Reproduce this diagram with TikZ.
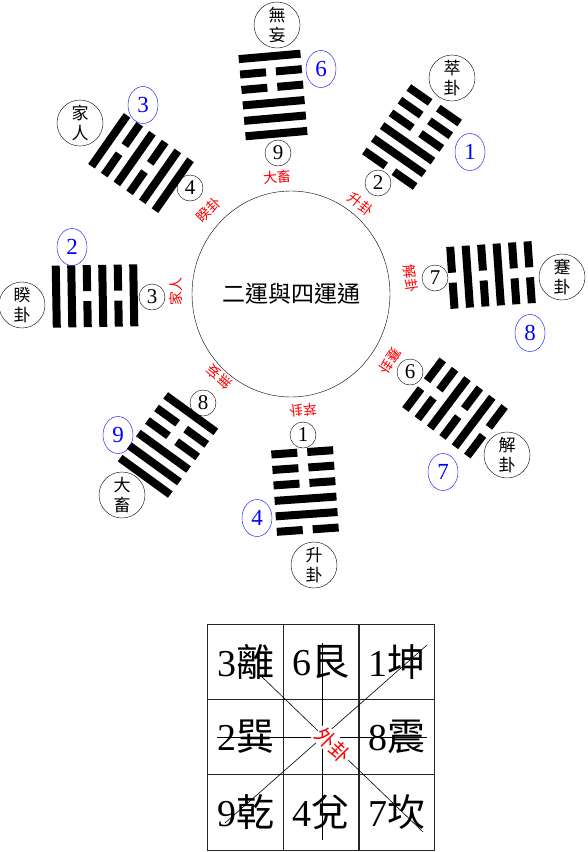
\documentclass[tikz,border=0pt]{standalone}
\usepackage{fontspec}
\setmainfont{Liberation Serif}
\newfontfamily\cjk{Noto Sans CJK TC}
\usetikzlibrary{shapes.geometric,calc}

\newcommand\gua[4]{% centre x, centre y, rotation, lines from outside in
  \begin{scope}[shift={(#1,#2)}, rotate=#3]
    \foreach \b [count=\k] in {#4} {
      \pgfmathsetmacro\yy{(\k-3.5)*15.5}
      \ifnum\b=1
        \draw[yao] (-31,\yy) -- (31,\yy);
      \else
        \draw[yao] (-31,\yy) -- (-5,\yy);
        \draw[yao] (5,\yy) -- (31,\yy);
      \fi
    }
  \end{scope}}

\begin{document}
\begin{tikzpicture}[
  x=1pt, y=-1pt,
  yao/.style={line width=8pt},
  ring/.style={draw, circle, minimum size=46pt, inner sep=0pt, align=center, font=\cjk\fontsize{17}{20}\selectfont},
  num/.style={draw, circle, minimum size=26pt, inner sep=0pt, font=\fontsize{21}{21}\selectfont},
  blu/.style={draw=blue, text=blue, ellipse, minimum width=30pt, minimum height=37pt, inner sep=0pt, font=\fontsize{23}{23}\selectfont},
  zong/.style={text=red, inner sep=0pt, font=\cjk\fontsize{14}{14}\selectfont},
  cell/.style={draw=black!85, line width=0.9pt, minimum size=75.7pt, inner sep=0pt, font=\fontsize{38}{38}\selectfont},
]
\useasboundingbox (0,0) rectangle (587,852);

\node[draw, ellipse, minimum width=198pt, minimum height=206pt, inner sep=0pt, font=\cjk\fontsize{23}{23}\selectfont] (yun) at (291,294) {二運與四運通};

\gua{273}{95}{5}{1,0,0,1,1,1}
\gua{412}{137}{-35}{0,0,0,1,1,0}
\gua{491}{275}{-86}{0,0,1,0,1,0}
\gua{455}{408}{-127}{0,1,0,1,0,0}
\gua{305}{491}{-176}{0,1,1,0,0,0}
\gua{168}{445}{144}{1,1,1,0,0,1}
\gua{95}{296}{91}{1,1,0,1,0,1}
\gua{141}{163}{55}{1,0,1,0,1,1}

\node[ring] (wuwang) at (277,25) {無\\妄};
\node[ring] (cui) at (452,78) {萃\\卦};
\node[ring] (jian) at (562,277) {蹇\\卦};
\node[ring] (xie) at (507,455) {解\\卦};
\node[ring] (sheng) at (314,565) {升\\卦};
\node[ring] (daxu) at (122,495) {大\\畜};
\node[ring] (kui) at (22,305) {睽\\卦};
\node[ring] (jiaren) at (80,123) {家\\人};

\node[blu] (b6) at (321,69) {6};
\node[blu] (b1) at (470,152) {1};
\node[blu] (b8) at (530,333) {8};
\node[blu] (b7) at (443,472) {7};
\node[blu] (b4) at (257,518) {4};
\node[blu] (b9) at (118,435) {9};
\node[blu] (b2) at (72,247) {2};
\node[blu] (b3) at (143,105) {3};

\node[num] (n9) at (278,153) {9};
\node[num] (n2) at (378,183) {2};
\node[num] (n7) at (435,278) {7};
\node[num] (n6) at (410,372) {6};
\node[num] (n1) at (303,435) {1};
\node[num] (n8) at (203,403) {8};
\node[num] (n3) at (152,297) {3};
\node[num] (n4) at (190,188) {4};

\node[zong, rotate=5] (z9) at (277,177) {大畜};
\node[zong, rotate=-38] (z2) at (361,204) {升卦};
\node[zong, rotate=-82] (z7) at (411,279) {解卦};
\node[zong, rotate=-124] (z6) at (390,361) {蹇卦};
\node[zong, rotate=-174] (z1) at (303,410) {萃卦};
\node[zong, rotate=139] (z8) at (219,377) {無妄};
\node[zong, rotate=91] (z3) at (176,292) {家人};
\node[zong, rotate=45] (z4) at (209,210) {睽卦};

\node[cell] (c3) at (245.5,662) {3{\cjk 離}};
\node[cell] (c6) at (321,662) {6{\cjk 艮}};
\node[cell] (c1) at (397,662) {1{\cjk 坤}};
\node[cell] (c2) at (245.5,737) {2{\cjk 巽}};
\node[cell] (mid) at (321,737) {};
\node[cell] (c8) at (397,737) {8{\cjk 震}};
\node[cell] (c9) at (245.5,812.5) {9{\cjk 乾}};
\node[cell] (c4) at (321,812.5) {4{\cjk 兌}};
\node[cell] (c7) at (397,812.5) {7{\cjk 坎}};

\draw[line width=0.6pt] ($(c3)+(14.5,13)$) -- ($(c7)+(26,19.5)$);
\draw[line width=0.6pt] ($(c1)+(30,-17)$) -- ($(c9)+(-20.5,10.5)$);
\draw[line width=0.6pt] ($(c2)+(-28.5,0)$) -- ($(c8)+(30,0)$);
\draw[line width=0.6pt] ($(c6)+(1,-19)$) -- ($(c4)+(1,27.5)$);
\node[zong, fill=white, inner sep=1pt, rotate=-45, font=\cjk\fontsize{20}{20}\selectfont] (wai) at (333,745) {外卦};
\end{tikzpicture}
\end{document}
